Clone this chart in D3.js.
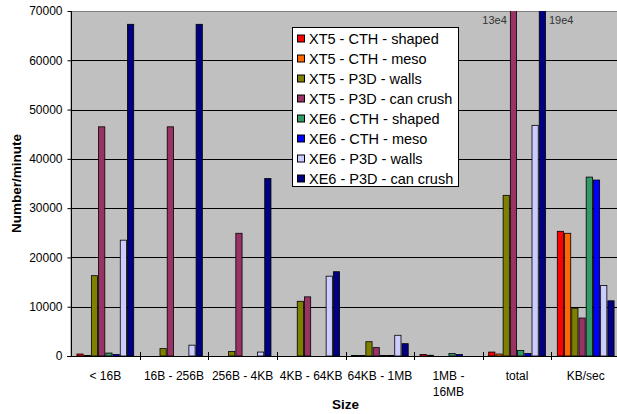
<!DOCTYPE html>
<meta charset="utf-8">
<style>
    body { margin: 0; background: #fff; }
    svg { font-family: Arial, "Liberation Sans", sans-serif; }
    .yAxis .domain { stroke: #000; }
    .yAxis .tick line { stroke: #000; }
    .yAxis .tick text, .xLabel { font-size: 12px; fill: #000; }
    .grid line { stroke: #000; stroke-width: 1px; }
    .title { font-size: 13.5px; font-weight: bold; fill: #000; }
    .legend text { font-size: 14.5px; fill: #000; }
    .overflow { font-size: 11px; fill: #333; }
</style>
<body>
<svg width="617" height="414"></svg>
</body>
<script src="https://cdn.jsdelivr.net/npm/d3@7"></script>
<script>

    // categories along the x axis ("\n" marks a wrapped label)
    var categories = ["< 16B", "16B - 256B", "256B - 4KB", "4KB - 64KB", "64KB - 1MB", "1MB -\n16MB", "total", "KB/sec"];

    var series = ["XT5 - CTH - shaped", "XT5 - CTH - meso", "XT5 - P3D - walls", "XT5 - P3D - can crush",
                  "XE6 - CTH - shaped", "XE6 - CTH - meso", "XE6 - P3D - walls", "XE6 - P3D - can crush"];
    var colors = ["#ff0000", "#ff6600", "#808000", "#993366", "#339966", "#0000ff", "#ccccff", "#000080"];

    // one array per series, values per category
    var xt5CthShaped   = [400,   0,     0,     0,     100,  300, 800,    25300];
    var xt5CthMeso     = [100,   0,     0,     0,     100,  150, 400,    24900];
    var xt5P3dWalls    = [16300, 1500,  900,   11100, 2900, 0,   32600,  9700];
    var xt5P3dCanCrush = [46500, 46500, 24900, 12000, 1700, 0,   130000, 7700];
    var xe6CthShaped   = [600,   0,     0,     0,     100,  500, 1100,   36300];
    var xe6CthMeso     = [300,   0,     0,     0,     100,  300, 500,    35700];
    var xe6P3dWalls    = [23500, 2200,  800,   16200, 4200, 0,   46800,  14300];
    var xe6P3dCanCrush = [67300, 67300, 36000, 17100, 2500, 0,   190000, 11200];
    var values = [xt5CthShaped, xt5CthMeso, xt5P3dWalls, xt5P3dCanCrush,
                  xe6CthShaped, xe6CthMeso, xe6P3dWalls, xe6P3dCanCrush];

    var yTicks = [0, 10000, 20000, 30000, 40000, 50000, 60000, 70000];

    var svg = d3.select("svg");
    var plotL = 71, plotR = 620, plotT = 11, plotB = 356;

    var x0 = d3.scaleBand().domain(categories).range([plotL, plotR]);
    var x1 = d3.scaleBand().domain(series).range([0, x0.bandwidth()]).paddingOuter(0.75);
    var y = d3.scaleLinear().domain([0, 70000]).range([plotB, plotT]);

    // plot area
    svg.append("rect")
            .attr("x", plotL).attr("y", plotT + 0.5)
            .attr("width", plotR - plotL).attr("height", plotB - plotT)
            .attr("fill", "#c0c0c0")
            .attr("stroke", "#808080");

    svg.append("clipPath").attr("id", "plotClip")
        .append("rect")
            .attr("x", plotL).attr("y", plotT)
            .attr("width", plotR - plotL).attr("height", plotB - plotT + 1);

    // gridlines
    svg.append("g")
            .attr("class", "grid")
            .selectAll("line")
            .data(yTicks.slice(1, -1))
            .enter().append("line")
            .attr("x1", plotL).attr("x2", plotR)
            .attr("y1", function (d) { return Math.round(y(d)) + 0.5; })
            .attr("y2", function (d) { return Math.round(y(d)) + 0.5; });

    // bars
    var groups = svg.append("g")
            .attr("clip-path", "url(#plotClip)")
            .selectAll("g")
            .data(categories)
            .enter().append("g")
            .attr("transform", function (d) { return "translate(" + x0(d) + ",0)"; });

    groups.selectAll("rect")
            .data(function (c, ci) {
                return series.map(function (s, si) { return {s: s, i: si, v: values[si][ci]}; })
                        .filter(function (d) { return d.v > 0; });
            })
            .enter().append("rect")
            .attr("x", function (d) { return x1(d.s) + 0.5; })
            .attr("y", function (d) { return y(d.v); })
            .attr("width", x1.bandwidth() - 1)
            .attr("height", function (d) { return y(0) - y(d.v); })
            .attr("fill", function (d) { return colors[d.i]; })
            .attr("stroke", "#000")
            .attr("stroke-width", 0.8);

    // labels for bars that run off the top
    var totalX = x0("total");
    svg.append("text").attr("class", "overflow")
            .attr("x", totalX + x1(series[3]) - 3).attr("y", 24)
            .attr("text-anchor", "end")
            .text((xt5P3dCanCrush[6] / 1e4) + "e4");
    svg.append("text").attr("class", "overflow")
            .attr("x", totalX + x1(series[7]) + x1.bandwidth() + 3).attr("y", 24)
            .text((xe6P3dCanCrush[6] / 1e4) + "e4");

    // y axis
    svg.append("g")
            .attr("class", "yAxis")
            .attr("transform", "translate(" + (plotL + 0.5) + ",0)")
            .call(d3.axisLeft(y).tickValues(yTicks).tickSize(4).tickPadding(5).tickFormat(d3.format("d")))
            .call(function (g) { g.select(".domain").attr("d", "M0," + plotT + "V" + plotB); })
            .selectAll("text").style("font-family", "Arial, 'Liberation Sans', sans-serif");

    // x axis line + crossing ticks at category boundaries
    svg.append("line")
            .attr("x1", plotL - 4).attr("x2", plotR)
            .attr("y1", plotB + 0.5).attr("y2", plotB + 0.5)
            .attr("stroke", "#000");
    svg.append("g").selectAll("line")
            .data(categories.slice(1))
            .enter().append("line")
            .attr("x1", function (d) { return Math.round(x0(d)) + 0.5; })
            .attr("x2", function (d) { return Math.round(x0(d)) + 0.5; })
            .attr("y1", plotB - 4).attr("y2", plotB + 4)
            .attr("stroke", "#000");

    var xLabels = svg.append("g").selectAll("text")
            .data(categories)
            .enter().append("text")
            .attr("class", "xLabel")
            .attr("text-anchor", "middle")
            .attr("y", 380);
    xLabels.selectAll("tspan")
            .data(function (d) { return d.split("\n"); })
            .enter().append("tspan")
            .attr("x", function () { var c = d3.select(this.parentNode).datum(); return x0(c) + x0.bandwidth() / 2; })
            .attr("dy", function (d, i) { return i ? 16 : 0; })
            .text(function (d) { return d; });

    // axis titles
    svg.append("text").attr("class", "title")
            .attr("x", (plotL + plotR) / 2).attr("y", 409)
            .attr("text-anchor", "middle")
            .text("Size");
    svg.append("text").attr("class", "title")
            .attr("transform", "translate(21," + ((plotT + plotB) / 2) + ") rotate(-90)")
            .attr("text-anchor", "middle")
            .text("Number/minute");

    // legend
    var legend = svg.append("g").attr("class", "legend");
    legend.append("rect")
            .attr("x", 292.5).attr("y", 27.5)
            .attr("width", 166).attr("height", 159)
            .attr("fill", "#fff").attr("stroke", "#000");
    var item = legend.selectAll(".item")
            .data(series)
            .enter().append("g")
            .attr("class", "item")
            .attr("transform", function (d, i) { return "translate(297," + (38.5 + i * 20) + ")"; });
    item.append("rect")
            .attr("x", 0.5).attr("y", -3.5)
            .attr("width", 7).attr("height", 7)
            .attr("fill", function (d, i) { return colors[i]; })
            .attr("stroke", "#000");
    item.append("text")
            .attr("x", 12).attr("y", 5)
            .text(function (d) { return d; });

</script>
